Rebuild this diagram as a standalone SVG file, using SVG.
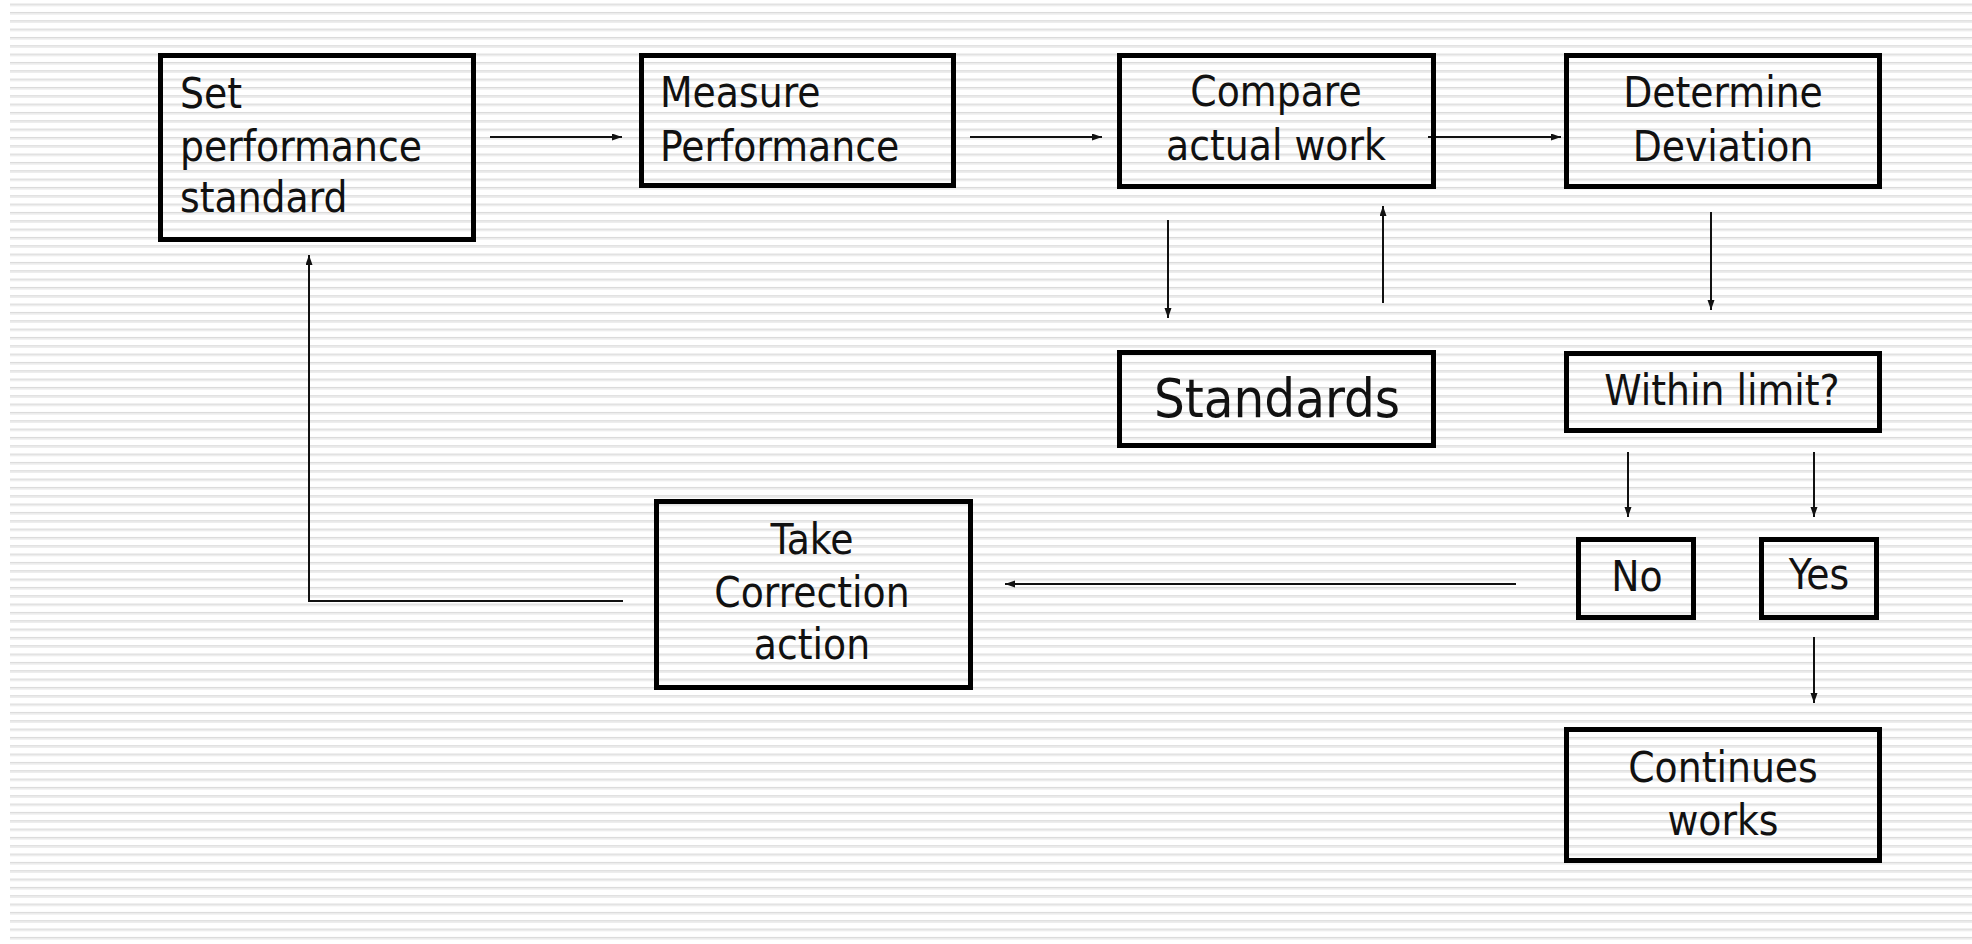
<svg xmlns="http://www.w3.org/2000/svg" width="1972" height="944" viewBox="0 0 1972 944">
<style>
.box{fill:none;stroke:#000;stroke-width:5}
.lbl{font-family:"DejaVu Sans Condensed","DejaVu Sans",sans-serif;font-stretch:condensed;font-size:42px;fill:#111}
.c{text-anchor:middle}
.conn{fill:none;stroke:#111;stroke-width:2}
</style>
<defs>
<pattern id="stripes" patternUnits="userSpaceOnUse" x="0" y="3.6" width="40" height="8.333">
<rect x="0" y="0" width="40" height="1.4" fill="#d9d9d9"/>
<rect x="0" y="1.4" width="40" height="1.3" fill="#ececec"/>
</pattern>
<marker id="ah" markerUnits="userSpaceOnUse" markerWidth="11" markerHeight="8" refX="10" refY="3.5" orient="auto">
<path d="M0,0 L10,3.5 L0,7 z" fill="#111"/>
</marker>
</defs>
<rect x="0" y="0" width="1972" height="944" fill="#fff"/>
<rect x="10" y="0" width="1962" height="944" fill="url(#stripes)"/>

<g id="connectors">
<line class="conn" x1="490" y1="137" x2="622" y2="137" marker-end="url(#ah)"/>
<line class="conn" x1="970" y1="137" x2="1102" y2="137" marker-end="url(#ah)"/>
<line class="conn" x1="1428" y1="137" x2="1561" y2="137" marker-end="url(#ah)"/>
<line class="conn" x1="1168" y1="220" x2="1168" y2="318" marker-end="url(#ah)"/>
<line class="conn" x1="1383" y1="303" x2="1383" y2="206" marker-end="url(#ah)"/>
<line class="conn" x1="1711" y1="212" x2="1711" y2="310" marker-end="url(#ah)"/>
<line class="conn" x1="1628" y1="452" x2="1628" y2="517" marker-end="url(#ah)"/>
<line class="conn" x1="1814" y1="452" x2="1814" y2="517" marker-end="url(#ah)"/>
<line class="conn" x1="1814" y1="637" x2="1814" y2="703" marker-end="url(#ah)"/>
<line class="conn" x1="1516" y1="584" x2="1005" y2="584" marker-end="url(#ah)"/>
<polyline class="conn" points="623,601 309,601 309,255" marker-end="url(#ah)"/>
</g>

<g id="set-standard">
<rect class="box" x="160.5" y="55.5" width="313" height="184"/>
<text class="lbl" x="180" y="108">Set</text>
<text class="lbl" x="180" y="161">performance</text>
<text class="lbl" x="180" y="212">standard</text>
</g>
<g id="measure">
<rect class="box" x="641.5" y="55.5" width="312" height="130"/>
<text class="lbl" x="660" y="107">Measure</text>
<text class="lbl" x="660" y="161">Performance</text>
</g>
<g id="compare">
<rect class="box" x="1119.5" y="55.5" width="314" height="131"/>
<text class="lbl c" x="1276" y="106">Compare</text>
<text class="lbl c" x="1276" y="160">actual work</text>
</g>
<g id="determine">
<rect class="box" x="1566.5" y="55.5" width="313" height="131"/>
<text class="lbl c" x="1723" y="107">Determine</text>
<text class="lbl c" x="1723" y="161">Deviation</text>
</g>
<g id="standards">
<rect class="box" x="1119.5" y="352.5" width="314" height="93"/>
<text class="lbl c" x="1277" y="417" style="font-size:54px">Standards</text>
</g>
<g id="within-limit">
<rect class="box" x="1566.5" y="353.5" width="313" height="77"/>
<text class="lbl c" x="1722" y="405">Within limit?</text>
</g>
<g id="no">
<rect class="box" x="1578.5" y="539.5" width="115" height="78"/>
<text class="lbl c" x="1637" y="591">No</text>
</g>
<g id="yes">
<rect class="box" x="1761.5" y="539.5" width="115" height="78"/>
<text class="lbl c" x="1819" y="589">Yes</text>
</g>
<g id="take-correction">
<rect class="box" x="656.5" y="501.5" width="314" height="186"/>
<text class="lbl c" x="812" y="554">Take</text>
<text class="lbl c" x="812" y="607">Correction</text>
<text class="lbl c" x="812" y="659">action</text>
</g>
<g id="continues">
<rect class="box" x="1566.5" y="729.5" width="313" height="131"/>
<text class="lbl c" x="1723" y="782">Continues</text>
<text class="lbl c" x="1723" y="835">works</text>
</g>
</svg>
